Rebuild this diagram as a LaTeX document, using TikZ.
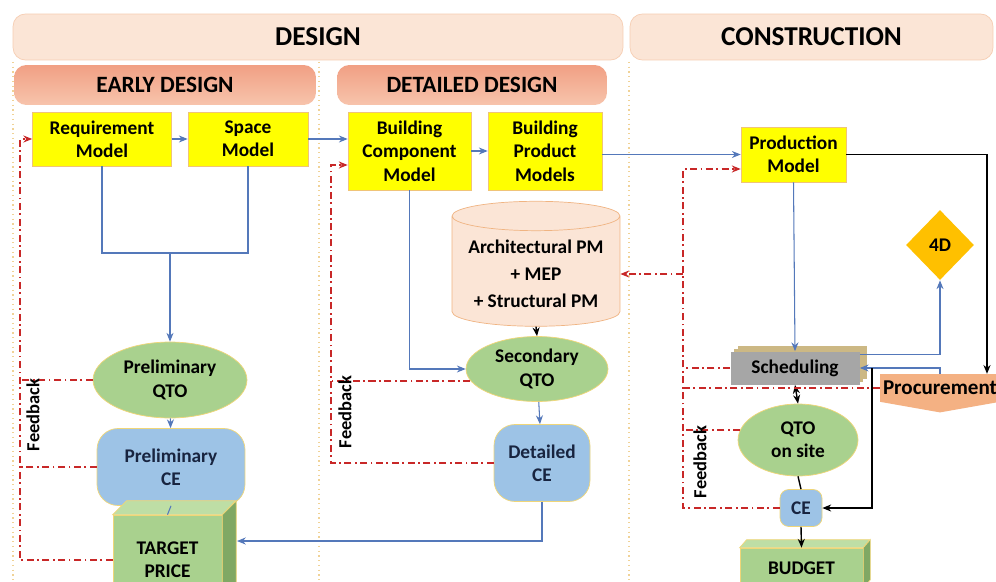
\documentclass[tikz,border=0pt]{standalone}
\usepackage{fontspec}
\setmainfont{Carlito}
\usetikzlibrary{shapes.geometric,shapes.symbols,arrows.meta,shadows}
\definecolor{bannerfill}{RGB}{251,229,214}
\definecolor{banneredge}{RGB}{246,205,178}
\definecolor{stagetop}{RGB}{241,160,132}
\definecolor{stagebot}{RGB}{247,196,172}
\definecolor{modelyellow}{RGB}{255,255,0}
\definecolor{modeledge}{RGB}{240,196,120}
\definecolor{qtogreen}{RGB}{169,209,142}
\definecolor{qtoedge}{RGB}{240,214,120}
\definecolor{ceblue}{RGB}{157,195,230}
\definecolor{cetext}{RGB}{24,36,64}
\definecolor{cylfill}{RGB}{251,229,214}
\definecolor{cyledge}{RGB}{240,180,130}
\definecolor{linkblue}{RGB}{84,120,186}
\definecolor{fbred}{RGB}{200,40,40}
\definecolor{sepcolor}{RGB}{240,210,150}
\definecolor{schedgray}{RGB}{166,166,166}
\definecolor{schedtan}{RGB}{204,184,132}
\definecolor{fourdfill}{RGB}{255,192,0}
\definecolor{procfill}{RGB}{244,177,131}
\definecolor{boxgreen}{RGB}{169,209,142}
\definecolor{boxtop}{RGB}{190,222,165}
\definecolor{boxside}{RGB}{128,168,100}

\begin{document}
\begin{tikzpicture}[x=0.02cm, y=-0.02cm, >={Stealth[length=5pt,width=4pt]},
  font=\fontsize{11}{13.3}\selectfont\bfseries,
  phase/.style={draw=banneredge, fill=bannerfill, rounded corners=7pt, minimum height=0.92cm, font=\fontsize{15.5}{18}\selectfont\bfseries},
  stage/.style={top color=stagetop, bottom color=stagebot, rounded corners=7pt, minimum height=0.8cm, font=\fontsize{13.3}{16}\selectfont\bfseries},
  model/.style={draw=modeledge, fill=modelyellow, align=center, inner sep=2pt},
  qto/.style={ellipse, draw=qtoedge, fill=qtogreen, align=center, inner sep=0pt},
  cost/.style={draw=qtoedge, fill=ceblue, rounded corners=12pt, align=center, text=cetext},
  pricebox/.style={draw=qtoedge, fill=boxgreen, align=center},
  link/.style={draw=linkblue, line width=0.6pt},
  flow/.style={draw=black, line width=0.8pt},
  feedback/.style={draw=fbred, line width=0.9pt, dash pattern=on 4pt off 2pt on 1pt off 2pt},
  fblabel/.style={rotate=90, font=\fontsize{10.5}{12}\selectfont\bfseries},
  phaseline/.style={draw=sepcolor, dotted, line width=0.7pt}
]
  \useasboundingbox (0,0) rectangle (996,581);
  \clip (0,0) rectangle (996,581);
  \fill[white] (0,0) rectangle (996,581);

  % phases
  \node[phase, minimum width=12.2cm] (design) at (318,37) {DESIGN};
  \node[phase, minimum width=7.26cm] (construction) at (811.5,37) {CONSTRUCTION};
  \node[stage, minimum width=6.04cm] (early) at (165,85) {EARLY DESIGN};
  \node[stage, minimum width=5.4cm] (detailed) at (472,85) {DETAILED DESIGN};
  \draw[phaseline] (13,62) -- (13,581);
  \draw[phaseline] (319,62) -- (319,581);
  \draw[phaseline] (629,62) -- (629,581);

  % early design
  \node[model, minimum width=2.78cm, minimum height=1.08cm] (req) at (102,139) {Requirement\\Model};
  \node[model, minimum width=2.4cm, minimum height=1.08cm] (space) at (248,139) {Space\\Model};
  \node[qto, minimum width=3.08cm, minimum height=1.52cm] (pqto) at (170,380) {Preliminary\\QTO};
  \node[cost, minimum width=2.96cm, minimum height=1.54cm] (pce) at (171,467) {Preliminary\\CE};
  \node[pricebox, minimum width=2.18cm, minimum height=1.8cm] (target) at (167.5,560) {TARGET\\PRICE};
  \filldraw[fill=boxtop, draw=qtoedge] (target.north west) -- ++(14,-14) -- ++(109,0) -- (target.north east) -- cycle;
  \filldraw[fill=boxside, draw=qtoedge] (target.north east) -- ++(14,-14) -- ++(0,104) -- (target.south east) -- cycle;
  \coordinate (merge) at (170,253);
  \coordinate (tpside) at (237,541);

  % detailed design
  \node[cylinder, shape border rotate=90, aspect=0.2, draw=cyledge, fill=cylfill, minimum width=3.36cm, minimum height=2.5cm, align=center, font=\fontsize{11}{15.3}\selectfont\bfseries] (cyl) at (536,274) {Architectural PM\\+ MEP\\+ Structural PM};
  \node[model, minimum width=2.46cm, minimum height=1.56cm] (comp) at (409.5,151) {Building\\Component\\Model};
  \node[model, minimum width=2.28cm, minimum height=1.56cm] (prod) at (545,151) {Building\\Product\\Models};
  \node[qto, minimum width=2.84cm, minimum height=1.3cm] (sqto) at (537,369) {Secondary\\QTO};
  \node[cost, minimum width=1.92cm, minimum height=1.54cm] (dce) at (542,463) {Detailed\\CE};

  % construction
  \node[model, minimum width=2.1cm, minimum height=1.1cm] (prodm) at (793.5,154.5) {Production\\Model};
  \node[diamond, fill=fourdfill, minimum width=1.36cm, minimum height=1.4cm, inner sep=0pt] (fourd) at (940,245) {4D};
  \node[fill=schedgray, minimum width=2.58cm, minimum height=0.66cm, double copy shadow={shadow xshift=2pt, shadow yshift=1.5pt, fill=schedtan, draw=none}] (sched) at (795,368) {Scheduling};
  \node[signal, signal to=south, signal pointer angle=160, fill=procfill, minimum width=2.4cm, minimum height=0.76cm, inner sep=1pt, font=\fontsize{12}{14}\selectfont\bfseries] (proc) at (940,388) {Procurement};
  \node[qto, minimum width=2.4cm, minimum height=1.44cm] (qtos) at (798,440) {QTO\\on site};
  \node[cost, rounded corners=5pt, minimum width=0.84cm, minimum height=0.74cm, inner sep=1pt] (ce) at (801,508) {CE};
  \node[pricebox, minimum width=2.46cm, minimum height=0.8cm] (budget) at (801.5,568) {BUDGET};
  \filldraw[fill=boxtop, draw=qtoedge] (budget.north west) -- ++(7,-8) -- ++(123,0) -- (budget.north east) -- cycle;
  \filldraw[fill=boxside, draw=qtoedge] (budget.north east) -- ++(7,-8) -- ++(0,40) -- (budget.south east) -- cycle;
  \coordinate (split) at ([xshift=0.24cm]sched.east);

  % model flow
  \draw[link, ->] (req) -- (space);
  \draw[link, ->] (space.east) -- (space.east -| comp.west);
  \draw[link, ->] (comp) -- (prod);
  \draw[link, ->] (prod.east |- prodm.west) -- (prodm.west);
  \draw[link] (req.south) |- (merge);
  \draw[link] (space.south) |- (merge);
  \draw[link, ->] (merge) -- (pqto.north);
  \draw[link, ->] (pqto) -- (pce);
  \draw[link] (pce.south) -- (target.north);
  \draw[link, ->] (comp.south) |- (sqto.west);
  \draw[flow, ->] (cyl.south) -- (sqto.north);
  \draw[link, ->] (sqto) -- (dce);
  \draw[link, ->] (dce.south) |- (tpside);
  \draw[link, ->] (prodm.south) -- (sched.north);
  \draw[link, ->] ([yshift=-2pt]sched.north east) -| (fourd.south);
  \draw[flow, ->] (prodm.east) -| ([xshift=0.94cm]proc.north);
  \draw[link, ->] (proc.north) |- (sched.east);
  \draw[flow, ->] (split) |- (ce.east);
  \draw[flow, <->] (sched.south) -- (qtos.north);
  \draw[flow] (qtos.south) -- (ce.north);
  \draw[flow, ->] (ce.south) -- (budget.north);

  % feedback loops
  \coordinate (fbE) at (20,560);
  \draw[feedback, ->] (target.west) -- (fbE) |- (req.west);
  \draw[feedback] (pqto.west) -- (pqto.west -| fbE);
  \draw[feedback] (pce.west) -- (pce.west -| fbE);
  \node[fblabel] (fbEtext) at (33,415) {Feedback};

  \coordinate (fbD) at (331,463);
  \draw[feedback, ->] (dce.west) -- (fbD) |- ([yshift=-0.28cm]comp.west);
  \draw[feedback] (sqto.190) -- (sqto.190 -| fbD);
  \node[fblabel] (fbDtext) at (345,412) {Feedback};

  \coordinate (fbC) at (683,508);
  \draw[feedback, ->] (ce.west) -- (ce.west -| fbC) |- ([yshift=-0.29cm]prodm.west);
  \draw[feedback, ->] (cyl.east -| fbC) -- (cyl.east);
  \draw[feedback] (sched.west) -- (sched.west -| fbC);
  \draw[feedback] (proc.west) -- (proc.west -| fbC);
  \draw[feedback] (qtos.170) -- (qtos.170 -| fbC);
  \node[fblabel] (fbCtext) at (700,462) {Feedback};
\end{tikzpicture}
\end{document}
